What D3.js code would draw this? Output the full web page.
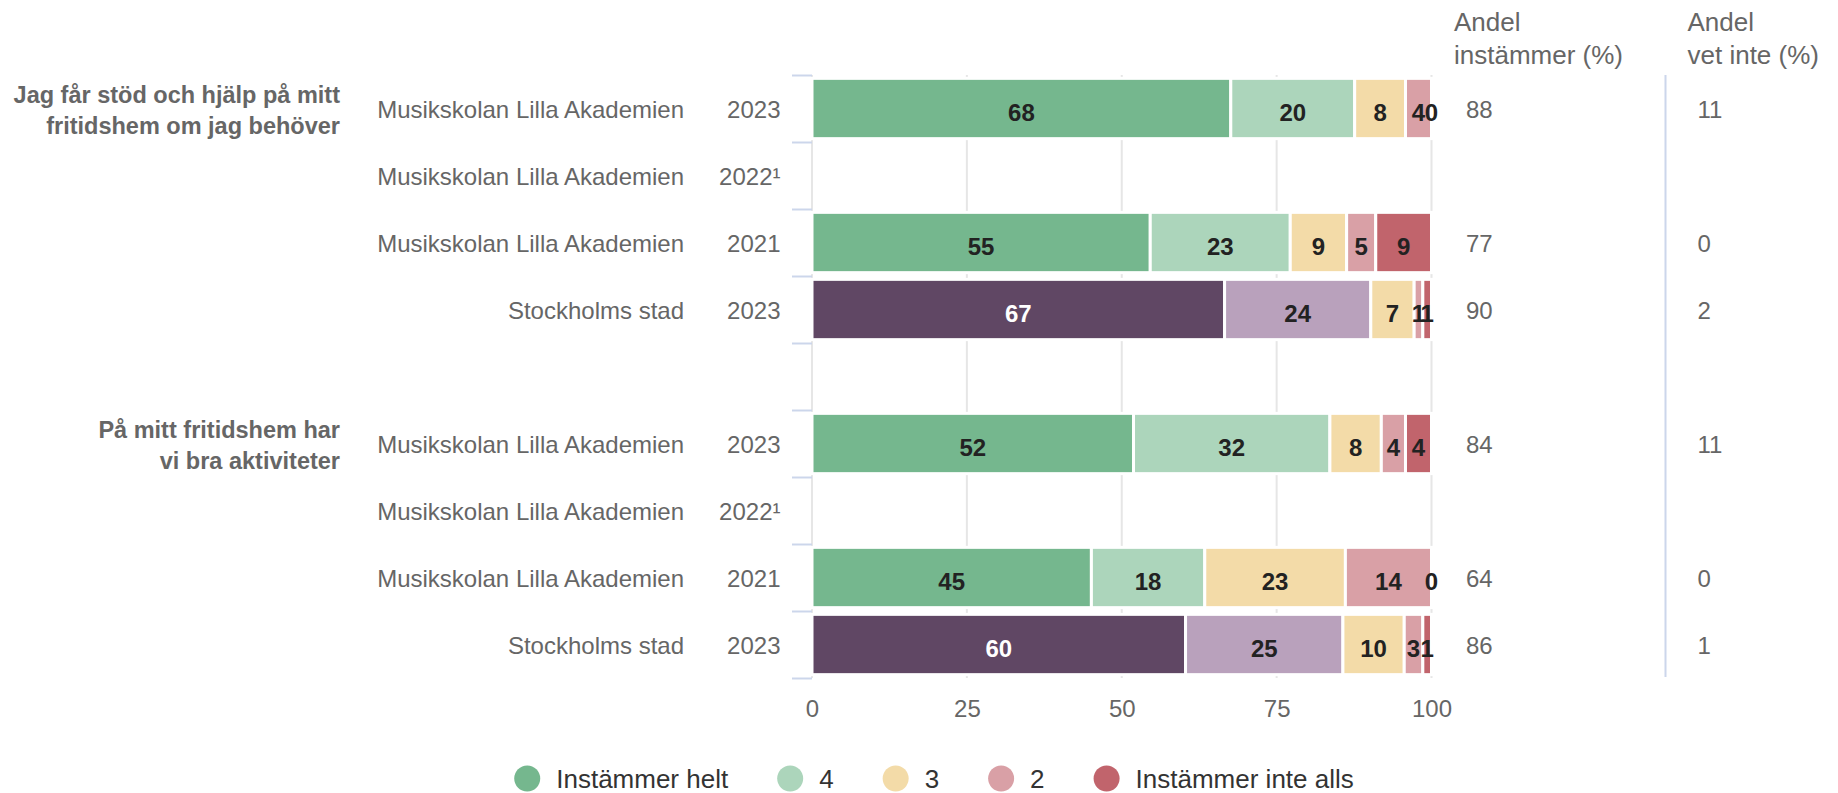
<!DOCTYPE html>
<html>
<head>
<meta charset="utf-8">
<script src="https://cdn.jsdelivr.net/npm/d3@7"></script>
<style>
  body { margin: 0; background: #fff; }
  svg text { font-family: "Liberation Sans", Arial, Helvetica, sans-serif; }
</style>
</head>
<body>
<div class="chart"></div>
<script>
// data
var questionLines = [
  ["Jag får stöd och hjälp på mitt", "fritidshem om jag behöver"],
  ["På mitt fritidshem har", "vi bra aktiviteter"]
];
var units = ["Musikskolan Lilla Akademien", "Musikskolan Lilla Akademien", "Musikskolan Lilla Akademien", "Stockholms stad"];
var years = ["2023", "2022¹", "2021", "2023"];
var seriesNames = ["Instämmer helt", "4", "3", "2", "Instämmer inte alls"];

// share per answer, one array per row (null = no data for 2022)
var q1Values = [[67.6, 20.0, 8.2, 4.2, 0], null, [54.6, 22.6, 9.1, 4.7, 9.0], [66.6, 23.6, 7.0, 1.4, 1.4]];
var q2Values = [[51.9, 31.7, 8.3, 3.9, 4.2], null, [45.1, 18.3, 22.7, 13.9, 0], [60.3, 25.4, 9.9, 3.0, 1.4]];
var q1Agree = [88, null, 77, 90];
var q1DontKnow = [11, null, 0, 2];
var q2Agree = [84, null, 64, 86];
var q2DontKnow = [11, null, 0, 1];
var xTicks = [0, 25, 50, 75, 100];

var schoolColors = ["#75b78e", "#acd5bb", "#f3dba8", "#d9a0a6", "#c1646c"];
var cityColors = ["#604764", "#b9a1bc", "#f3dba8", "#d9a0a6", "#c1646c"];

var svgWidth = 1838;
var svgHeight = 793;

var svg = d3.select(".chart")
  .append("svg")
  .attr("width", svgWidth)
  .attr("height", svgHeight);

// build the row list: 4 rows per question plus an empty spacer row
var allValues = [q1Values, q2Values];
var allAgree = [q1Agree, q2Agree];
var allDontKnow = [q1DontKnow, q2DontKnow];
var rows = [];
questionLines.forEach(function(q, qi) {
  units.forEach(function(u, i) {
    rows.push({
      key: qi + "-" + i, q: qi, i: i, unit: u, year: years[i],
      values: allValues[qi][i], agree: allAgree[qi][i], dontKnow: allDontKnow[qi][i],
      city: u === "Stockholms stad"
    });
  });
  if (qi < questionLines.length - 1) rows.push({ key: "gap" + qi, gap: true });
});

var plotTop = 75, plotBottom = 678;
var xScale = d3.scaleLinear().domain([0, 100]).range([812, 1431.5]);
var yScale = d3.scaleBand().domain(rows.map(d => d.key)).range([plotTop, plotBottom]);
var rowIndex = d3.scaleLinear().domain([0, rows.length]).range([plotTop, plotBottom]);
var barH = yScale.bandwidth() * 0.855;

// gridlines
svg.append("g")
  .selectAll("line")
  .data(xTicks)
  .enter()
  .append("line")
  .attr("x1", d => xScale(d))
  .attr("x2", d => xScale(d))
  .attr("y1", plotTop)
  .attr("y2", plotBottom)
  .attr("stroke", "#e6e6e6")
  .attr("stroke-width", 2);

// x axis labels
var bottomAxis = d3.axisBottom(xScale).tickValues(xTicks).tickSize(0).tickPadding(0);
var xAxisG = svg.append("g")
  .attr("transform", "translate(0, 700)")
  .call(bottomAxis);
xAxisG.select(".domain").remove();
xAxisG.selectAll("text")
  .attr("font-size", "24px")
  .attr("fill", "#666")
  .attr("dy", "0.71em")
  .style("font-family", "'Liberation Sans', Arial, sans-serif");

// y axis ticks at row boundaries
var leftAxis = d3.axisLeft(rowIndex).tickValues(d3.range(rows.length + 1)).tickSize(20).tickFormat("");
var yAxisG = svg.append("g")
  .attr("transform", "translate(812, 0)")
  .call(leftAxis);
yAxisG.select(".domain").remove();
yAxisG.selectAll("line").attr("stroke", "#ccd6eb").attr("stroke-width", 2);

var dataRows = rows.filter(d => !d.gap);

// category labels
svg.append("g")
  .selectAll("text")
  .data(dataRows)
  .enter()
  .append("text")
  .attr("x", 684)
  .attr("y", d => yScale(d.key) + yScale.bandwidth() / 2 + 1)
  .attr("dy", "0.35em")
  .attr("text-anchor", "end")
  .attr("font-size", "24px")
  .attr("fill", "#666")
  .text(d => d.unit);

svg.append("g")
  .selectAll("text")
  .data(dataRows)
  .enter()
  .append("text")
  .attr("x", 780.5)
  .attr("y", d => yScale(d.key) + yScale.bandwidth() / 2 + 1)
  .attr("dy", "0.35em")
  .attr("text-anchor", "end")
  .attr("font-size", "24px")
  .attr("fill", "#666")
  .text(d => d.year);

// question labels
questionLines.forEach(function(lines, qi) {
  var cy = yScale(qi + "-0") + yScale.bandwidth() / 2;
  svg.append("text")
    .attr("text-anchor", "end")
    .attr("font-size", "23.5px")
    .attr("font-weight", "bold")
    .attr("fill", "#666")
    .selectAll("tspan")
    .data(lines)
    .enter()
    .append("tspan")
    .attr("x", 340)
    .attr("y", (d, i) => cy - 13.5 + i * 31)
    .attr("dy", "0.35em")
    .text(d => d);
});

// stacked bars
var stack = d3.stack()
  .keys(d3.range(seriesNames.length))
  .value((d, k) => d.values[k]);
var barRows = dataRows.filter(d => d.values);
var stacked = stack(barRows);

var segs = [];
stacked.forEach(function(layer, k) {
  layer.forEach(function(p) {
    segs.push({ k: k, row: p.data, x0: p[0], x1: p[1], v: p.data.values[k] });
  });
});

var graph = svg.append("g");
graph.selectAll("rect")
  .data(segs)
  .enter()
  .append("rect")
  .attr("x", d => xScale(d.x0))
  .attr("width", d => xScale(d.x1) - xScale(d.x0))
  .attr("y", d => yScale(d.row.key) + (yScale.bandwidth() - barH) / 2 - 1.5)
  .attr("height", barH + 3)
  .attr("fill", d => (d.row.city ? cityColors : schoolColors)[d.k])
  .attr("stroke", "#fff")
  .attr("stroke-width", 3);

graph.selectAll("text")
  .data(segs)
  .enter()
  .append("text")
  .attr("x", d => xScale((d.x0 + d.x1) / 2))
  .attr("y", d => yScale(d.row.key) + yScale.bandwidth() / 2 + 4)
  .attr("dy", "0.35em")
  .attr("text-anchor", "middle")
  .attr("font-size", "24px")
  .attr("font-weight", "bold")
  .attr("fill", d => (d.row.city && d.k === 0) ? "#fff" : "#222")
  .text(d => Math.round(d.v));

// right hand columns
var cols = [
  { head: ["Andel", "instämmer (%)"], hx: 1454, vx: 1466, field: "agree" },
  { head: ["Andel", "vet inte (%)"], hx: 1687.5, vx: 1697.5, field: "dontKnow" }
];
cols.forEach(function(c) {
  svg.append("text")
    .attr("font-size", "26px")
    .attr("fill", "#666")
    .selectAll("tspan")
    .data(c.head)
    .enter()
    .append("tspan")
    .attr("x", c.hx)
    .attr("y", (d, i) => 31 + i * 32.5)
    .text(d => d);

  svg.append("g")
    .selectAll("text")
    .data(dataRows.filter(d => d[c.field] !== null))
    .enter()
    .append("text")
    .attr("x", c.vx)
    .attr("y", d => yScale(d.key) + yScale.bandwidth() / 2 + 1)
    .attr("dy", "0.35em")
    .attr("font-size", "24px")
    .attr("fill", "#666")
    .text(d => d[c.field]);
});

svg.append("line")
  .attr("x1", 1665.5).attr("x2", 1665.5)
  .attr("y1", plotTop).attr("y2", plotBottom - 1)
  .attr("stroke", "#ccd6eb")
  .attr("stroke-width", 2);

// legend
var legend = svg.append("g");
var items = legend.selectAll("g")
  .data(seriesNames)
  .enter()
  .append("g");
items.append("circle")
  .attr("r", 13)
  .attr("cx", 13)
  .attr("cy", 778.5)
  .attr("fill", (d, i) => schoolColors[i]);
items.append("text")
  .attr("x", 42)
  .attr("y", 788)
  .attr("font-size", "26px")
  .attr("fill", "#333")
  .text(d => d);

var pos = 0;
var offsets = [];
items.each(function(d) {
  offsets.push(pos);
  pos += 42 + d3.select(this).select("text").node().getComputedTextLength() + 49;
});
var totalW = pos - 49;
var startX = 934 - totalW / 2;
items.attr("transform", (d, i) => `translate(${startX + offsets[i]}, 0)`);
</script>
</body>
</html>
